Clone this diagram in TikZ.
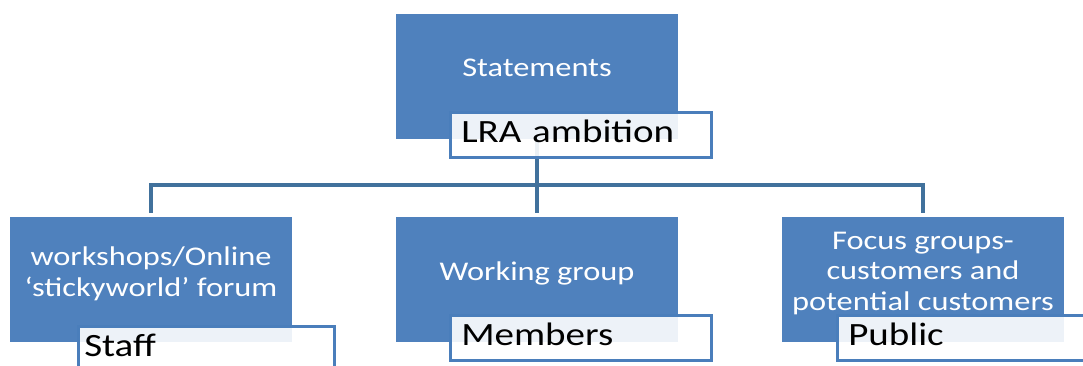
\documentclass[tikz,border=0pt]{standalone}
\usepackage{fontspec}
\newfontfamily\boxfont[FakeStretch=1.2]{Carlito}
\newfontfamily\labfont[FakeStretch=1.2]{Carlito}
\definecolor{boxblue}{HTML}{4F81BD}
\definecolor{linkblue}{HTML}{41719C}
\definecolor{labedge}{HTML}{4A7EBB}
\tikzset{
  box/.style={fill=boxblue, draw=none, minimum width=282pt, minimum height=125pt, inner sep=0pt},
  boxtext/.style={text=white, font=\boxfont\fontsize{27}{30.5}\selectfont, align=center, inner sep=0pt},
  lab/.style={draw=labedge, line width=2.5pt, fill=white, fill opacity=0.9, text opacity=1,
    minimum width=261pt, text height=24pt, text depth=8pt, inner ysep=6.5pt, inner xsep=11pt,
    anchor=north west, align=left, text width=239pt, font=\labfont\fontsize{32.5}{36}\selectfont, text=black},
  conn/.style={draw=linkblue, line width=3.5pt, line join=miter}
}
\begin{document}
\begin{tikzpicture}[x=1pt,y=-1pt]
\useasboundingbox (0,0) rectangle (1083,365);
\clip (0,0) rectangle (1083,365);
% boxes
\node[box] (top) at (537,76) {};
\node[box] (left) at (151,279.5) {};
\node[box] (mid) at (537,279.5) {};
\node[box] (right) at (923,279.5) {};
% box texts
\node[boxtext, anchor=base] (ttop) at (537,76) {Statements};
\node[boxtext] (tleft) at (151,274) {workshops/Online\\‘stickyworld’ forum};
\node[boxtext] (tmid) at (537,273) {Working group};
\node[boxtext] (tright) at (923,273.5) {Focus groups-\\customers and\\potential customers};
% connectors
\coordinate (hub) at (537,185);
\draw[conn] (top.south) -- (hub) -| ([yshift=4pt]left.north);
\draw[conn] (hub) -| ([yshift=4pt]right.north);
\draw[conn] (hub) -- ([yshift=4pt]mid.north);
% labels
\node[lab] (ltop) at (449,111) {LRA ambition};
\node[lab, minimum width=256pt, inner xsep=6pt, text width=244pt] (lleft) at (77,325) {Staff};
\node[lab] (lmid) at (449,314) {Members};
\node[lab] (lright) at (836,314) {Public};
\end{tikzpicture}
\end{document}
